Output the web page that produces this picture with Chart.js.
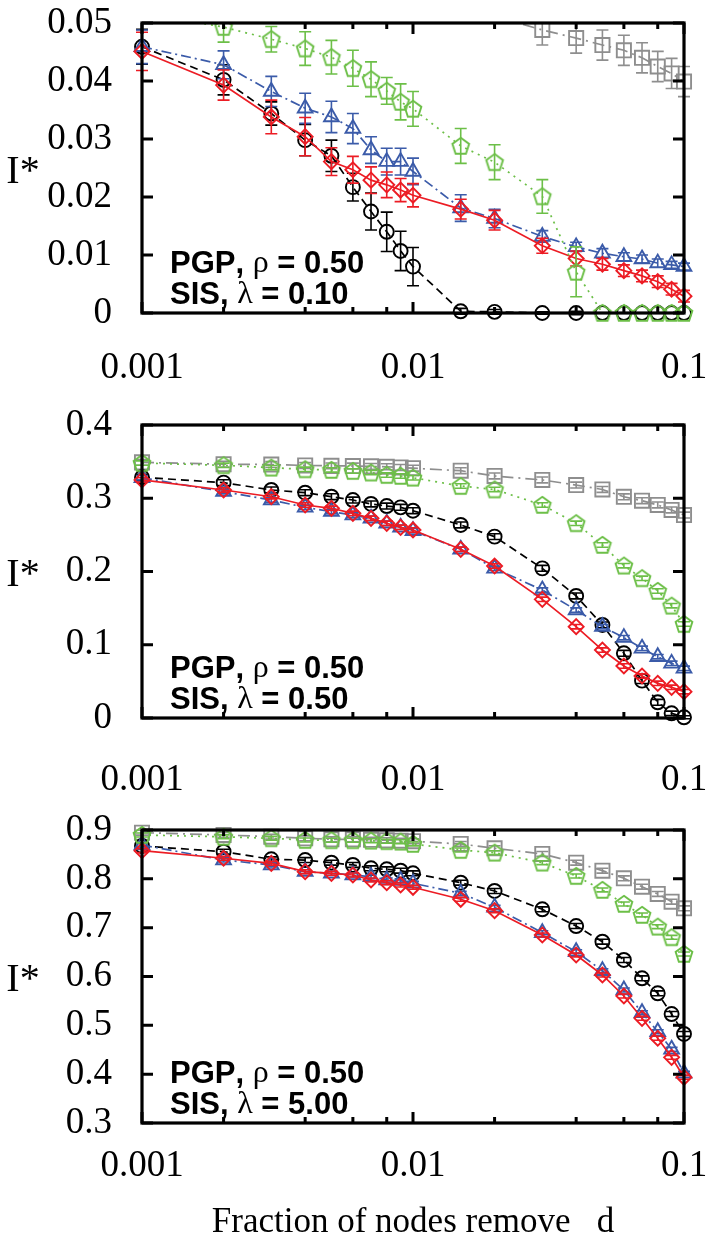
<!DOCTYPE html>
<html>
<head>
<meta charset="utf-8">
<script src="https://cdn.jsdelivr.net/npm/chart.js@4.4.1/dist/chart.umd.min.js"></script>
<style>
  html, body { margin: 0; padding: 0; background: #ffffff; }
  #wrap { position: relative; width: 724px; height: 1248px; overflow: hidden; background: #fff; }
  canvas { position: absolute; left: 0; }
</style>
</head>
<body>
<div id="wrap">
  <canvas id="c1" width="724" height="400" style="top:0px"></canvas>
  <canvas id="c2" width="724" height="410" style="top:390px"></canvas>
  <canvas id="c3" width="724" height="448" style="top:800px"></canvas>
</div>
<script>
// ---------------- DATA ----------------
const xValues = [0.001, 0.002, 0.003, 0.004, 0.005, 0.006, 0.007, 0.008, 0.009, 0.01,
                 0.015, 0.02, 0.03, 0.04, 0.05, 0.06, 0.07, 0.08, 0.09, 0.1];
const xTickValues = [0.001, 0.01, 0.1];
const xTickLabels = ['0.001', '0.01', '0.1'];
const xMinorTicks = [0.002, 0.004, 0.006, 0.008, 0.02, 0.04, 0.06, 0.08];
const xTitle = 'Fraction of nodes remove   d';
const yTitle = 'I*';

// Panel 1: SIS, lambda = 0.10
const yTicks1 = [0, 0.01, 0.02, 0.03, 0.04, 0.05];
const yLabels1 = ['0', '0.01', '0.02', '0.03', '0.04', '0.05'];
const note1 = ['PGP, ρ = 0.50', 'SIS, λ = 0.10'];
const black1 = [0.0459, 0.0402, 0.0344, 0.0298, 0.0271, 0.0217, 0.0175, 0.0140, 0.0107, 0.0080, 0.0003, 0.0002, 0, 0, 0, 0, 0, 0, 0, 0];
const black1Err = [0.0030, 0.0026, 0.0020, 0.0027, 0.0027, 0.0024, 0.0032, 0.0034, 0.0034, 0.0033, 0.0005, 0.0004, 0.0002, 0.0003, 0, 0, 0, 0, 0, 0];
const blue1 = [0.0459, 0.0428, 0.0382, 0.0353, 0.0338, 0.0318, 0.0281, 0.0261, 0.0261, 0.0244, 0.0181, 0.0163, 0.0132, 0.0114, 0.0103, 0.0097, 0.0093, 0.0086, 0.0083, 0.0080];
const blue1Err = [0.0029, 0.0024, 0.0026, 0.0026, 0.0027, 0.0026, 0.0023, 0.0023, 0.0023, 0.0023, 0.0023, 0.0016, 0.0010, 0.0008, 0.0008, 0.0007, 0.0007, 0.0007, 0.0006, 0.0006];
const red1 = [0.0451, 0.0393, 0.0338, 0.0304, 0.0261, 0.0247, 0.0229, 0.0221, 0.0212, 0.0203, 0.0179, 0.0160, 0.0116, 0.0094, 0.0084, 0.0073, 0.0064, 0.0054, 0.0041, 0.0029];
const red1Err = [0.0033, 0.0026, 0.0029, 0.0033, 0.0024, 0.0023, 0.0023, 0.0022, 0.0020, 0.0020, 0.0017, 0.0017, 0.0013, 0.0013, 0.0010, 0.0010, 0.0010, 0.0010, 0.0010, 0.0010];
const green1 = [0.0517, 0.0493, 0.0472, 0.0456, 0.0441, 0.0422, 0.0403, 0.0383, 0.0364, 0.0352, 0.0288, 0.0260, 0.0201, 0.0071, 0, 0, 0, 0, 0, 0];
const green1Err = [0.0030, 0.0026, 0.0022, 0.0029, 0.0029, 0.0031, 0.0030, 0.0023, 0.0031, 0.0030, 0.0030, 0.0030, 0.0029, 0.0043, 0, 0, 0, 0, 0, 0];
const gray1 = [0.0565, 0.0562, 0.0558, 0.0554, 0.0550, 0.0546, 0.0542, 0.0538, 0.0535, 0.0532, 0.0522, 0.0512, 0.0488, 0.0474, 0.0462, 0.0453, 0.0440, 0.0425, 0.0413, 0.0399];
const gray1Err = [0.0030, 0.0030, 0.0030, 0.0030, 0.0030, 0.0030, 0.0030, 0.0030, 0.0030, 0.0030, 0.0030, 0.0030, 0.0026, 0.0026, 0.0026, 0.0026, 0.0026, 0.0026, 0.0026, 0.0026];

// Panel 2: SIS, lambda = 0.50
const yTicks2 = [0, 0.1, 0.2, 0.3, 0.4];
const yLabels2 = ['0', '0.1', '0.2', '0.3', '0.4'];
const note2 = ['PGP, ρ = 0.50', 'SIS, λ = 0.50'];
const black2 = [0.3286, 0.3213, 0.3113, 0.3076, 0.3021, 0.2976, 0.2922, 0.2894, 0.2876, 0.2830, 0.2635, 0.2476, 0.2043, 0.1666, 0.1270, 0.0883, 0.0510, 0.0214, 0.0064, 0.0010];
const black2Err = [0.004, 0.004, 0.004, 0.004, 0.004, 0.004, 0.004, 0.004, 0.004, 0.004, 0.004, 0.004, 0.004, 0.004, 0.004, 0.004, 0.004, 0.004, 0.003, 0.002];
const blue2 = [0.3280, 0.3090, 0.2976, 0.2876, 0.2817, 0.2771, 0.2726, 0.2658, 0.2603, 0.2557, 0.2303, 0.2043, 0.1747, 0.1474, 0.1247, 0.1097, 0.0951, 0.0837, 0.0746, 0.0678];
const blue2Err = [0.003, 0.003, 0.003, 0.003, 0.003, 0.003, 0.003, 0.003, 0.003, 0.003, 0.003, 0.003, 0.003, 0.003, 0.003, 0.003, 0.003, 0.003, 0.003, 0.003];
const red2 = [0.3250, 0.3113, 0.3021, 0.2908, 0.2863, 0.2794, 0.2726, 0.2658, 0.2603, 0.2567, 0.2303, 0.2075, 0.1620, 0.1247, 0.0928, 0.0710, 0.0573, 0.0473, 0.0419, 0.0360];
const red2Err = [0.003, 0.003, 0.003, 0.003, 0.003, 0.003, 0.003, 0.003, 0.003, 0.003, 0.003, 0.003, 0.003, 0.003, 0.003, 0.003, 0.003, 0.003, 0.003, 0.003];
const green2 = [0.3480, 0.3450, 0.3417, 0.3395, 0.3386, 0.3372, 0.3350, 0.3317, 0.3304, 0.3280, 0.3167, 0.3120, 0.2908, 0.2658, 0.2362, 0.2080, 0.1907, 0.1734, 0.1533, 0.1283];
const green2Err = [0.003, 0.003, 0.003, 0.003, 0.003, 0.003, 0.003, 0.003, 0.003, 0.003, 0.003, 0.003, 0.003, 0.003, 0.003, 0.003, 0.003, 0.003, 0.003, 0.003];
const gray2 = [0.3490, 0.3465, 0.3460, 0.3448, 0.3442, 0.3440, 0.3435, 0.3430, 0.3420, 0.3410, 0.3376, 0.3304, 0.3250, 0.3180, 0.3120, 0.3020, 0.2967, 0.2908, 0.2840, 0.2771];
const gray2Err = [0.004, 0.004, 0.004, 0.004, 0.004, 0.004, 0.004, 0.004, 0.004, 0.004, 0.004, 0.004, 0.004, 0.004, 0.004, 0.004, 0.004, 0.004, 0.004, 0.004];

// Panel 3: SIS, lambda = 5.00
const yTicks3 = [0.3, 0.4, 0.5, 0.6, 0.7, 0.8, 0.9];
const yLabels3 = ['0.3', '0.4', '0.5', '0.6', '0.7', '0.8', '0.9'];
const note3 = ['PGP, ρ = 0.50', 'SIS, λ = 5.00'];
const black3 = [0.8673, 0.8556, 0.8400, 0.8385, 0.8330, 0.8284, 0.8216, 0.8195, 0.8167, 0.8113, 0.7921, 0.7751, 0.7376, 0.7034, 0.6713, 0.6338, 0.5963, 0.5656, 0.5232, 0.4823];
const black3Err = [0.005, 0.005, 0.005, 0.005, 0.005, 0.005, 0.005, 0.005, 0.005, 0.005, 0.005, 0.005, 0.005, 0.005, 0.005, 0.005, 0.005, 0.005, 0.005, 0.005];
const blue3 = [0.8693, 0.8386, 0.8284, 0.8147, 0.8113, 0.8079, 0.8044, 0.7976, 0.7963, 0.7909, 0.7704, 0.7417, 0.6897, 0.6508, 0.6119, 0.5724, 0.5259, 0.4870, 0.4509, 0.4018];
const blue3Err = [0.004, 0.004, 0.004, 0.004, 0.004, 0.004, 0.004, 0.004, 0.004, 0.004, 0.004, 0.004, 0.004, 0.004, 0.004, 0.004, 0.004, 0.004, 0.004, 0.004];
const red3 = [0.8577, 0.8421, 0.8318, 0.8147, 0.8113, 0.8079, 0.7976, 0.7921, 0.7874, 0.7827, 0.7581, 0.7348, 0.6850, 0.6440, 0.6031, 0.5601, 0.5144, 0.4735, 0.4345, 0.3936];
const red3Err = [0.004, 0.004, 0.004, 0.004, 0.004, 0.004, 0.004, 0.004, 0.004, 0.004, 0.004, 0.004, 0.004, 0.004, 0.004, 0.004, 0.004, 0.004, 0.004, 0.004];
const green3 = [0.8898, 0.8860, 0.8830, 0.8795, 0.8790, 0.8790, 0.8780, 0.8770, 0.8760, 0.8714, 0.8590, 0.8535, 0.8331, 0.8058, 0.7772, 0.7485, 0.7260, 0.7020, 0.6803, 0.6461];
const green3Err = [0.004, 0.004, 0.004, 0.004, 0.004, 0.004, 0.004, 0.004, 0.004, 0.004, 0.004, 0.004, 0.004, 0.004, 0.004, 0.004, 0.004, 0.004, 0.004, 0.004];
const gray3 = [0.8945, 0.8898, 0.8863, 0.8830, 0.8810, 0.8810, 0.8800, 0.8790, 0.8780, 0.8770, 0.8714, 0.8626, 0.8509, 0.8331, 0.8167, 0.8011, 0.7839, 0.7690, 0.7532, 0.7397];
const gray3Err = [0.005, 0.005, 0.005, 0.005, 0.005, 0.005, 0.005, 0.005, 0.005, 0.005, 0.005, 0.005, 0.005, 0.005, 0.005, 0.005, 0.005, 0.005, 0.005, 0.005];

// ---------------- STYLE ----------------
const COL = { black: '#000000', blue: '#3b5ba9', red: '#ec1c24', green: '#6cbf47', gray: '#8e8e8e' };
const SERIF = '"Liberation Serif", "DejaVu Serif", serif';
const SANS = '"Liberation Sans", Arial, sans-serif';

function makePentagon(color) {
  const c = document.createElement('canvas');
  c.width = 22; c.height = 22;
  const g = c.getContext('2d');
  g.strokeStyle = color; g.lineWidth = 1.9;
  g.beginPath();
  const cx = 11, cy = 11.6, r = 8.8;
  for (let k = 0; k < 5; k++) {
    const a = -Math.PI / 2 + k * 2 * Math.PI / 5;
    const px = cx + r * Math.cos(a), py = cy + r * Math.sin(a);
    if (k === 0) g.moveTo(px, py); else g.lineTo(px, py);
  }
  g.closePath(); g.stroke();
  return c;
}
const pentagonGreen = makePentagon(COL.green);

function pts(arr) { return xValues.map((x, i) => ({ x: x, y: arr[i] })); }

function datasets(black, blackE, blue, blueE, red, redE, green, greenE, gray, grayE, clipTop) {
  const clip = { left: 14, right: 14, top: clipTop, bottom: 14 };
  const base = { fill: false, tension: 0, borderWidth: 1.7, pointBorderWidth: 1.9,
                 pointBackgroundColor: 'rgba(0,0,0,0)', clip: clip };
  // first dataset is drawn on top
  return [
    Object.assign({}, base, { label: 'green', data: pts(green), errorBars: greenE, borderColor: COL.green,
      pointBorderColor: COL.green, borderDash: [2, 5], pointStyle: pentagonGreen }),
    Object.assign({}, base, { label: 'red', data: pts(red), errorBars: redE, borderColor: COL.red,
      pointBorderColor: COL.red, borderDash: [], pointStyle: 'rectRot', pointRadius: 7.5 }),
    Object.assign({}, base, { label: 'blue', data: pts(blue), errorBars: blueE, borderColor: COL.blue,
      pointBorderColor: COL.blue, borderDash: [10, 4, 2, 4], pointStyle: 'triangle', pointRadius: 8.5 }),
    Object.assign({}, base, { label: 'black', data: pts(black), errorBars: blackE, borderColor: COL.black,
      pointBorderColor: COL.black, borderDash: [8, 5], pointStyle: 'circle', pointRadius: 7 }),
    Object.assign({}, base, { label: 'gray', data: pts(gray), errorBars: grayE, borderColor: COL.gray,
      pointBorderColor: COL.gray, borderDash: [12, 5, 2, 5], pointStyle: 'rect', pointRadius: 10 })
  ];
}

function drawNote(ctx, text, x, y) {
  let cx = x;
  for (const ch of text) {
    if (ch === 'ρ' || ch === 'λ') ctx.font = '32px ' + SERIF;
    else ctx.font = 'bold 31px ' + SANS;
    ctx.fillText(ch, cx, y);
    cx += ctx.measureText(ch).width;
  }
}

const decoPlugin = {
  id: 'deco',
  beforeDatasetDraw(chart, args, opts) {
    const ds = chart.data.datasets[args.index];
    if (!ds.errorBars) return;
    const ctx = chart.ctx, ys = chart.scales.y, a = chart.chartArea;
    ctx.save();
    ctx.beginPath();
    ctx.rect(a.left - 14, a.top - opts.clipTop, a.right - a.left + 28, a.bottom - a.top + opts.clipTop + 14);
    ctx.clip();
    ctx.strokeStyle = ds.borderColor; ctx.lineWidth = 1.6; ctx.setLineDash([]);
    args.meta.data.forEach((pt, i) => {
      const v = ds.data[i].y, e = ds.errorBars[i];
      if (!e || v > ys.max || v < ys.min) return; // out-of-range points carry no bar
      const y1 = ys.getPixelForValue(v + e), y2 = ys.getPixelForValue(v - e);
      ctx.beginPath();
      ctx.moveTo(pt.x, y1); ctx.lineTo(pt.x, y2);
      ctx.moveTo(pt.x - 6, y1); ctx.lineTo(pt.x + 6, y1);
      ctx.moveTo(pt.x - 6, y2); ctx.lineTo(pt.x + 6, y2);
      ctx.stroke();
    });
    ctx.restore();
  },
  afterDraw(chart, args, opts) {
    const ctx = chart.ctx, a = chart.chartArea, xs = chart.scales.x, ys = chart.scales.y;
    ctx.save();
    ctx.setLineDash([]);
    ctx.strokeStyle = '#000'; ctx.lineWidth = 3;
    ctx.beginPath();
    xTickValues.forEach(v => {
      const px = xs.getPixelForValue(v);
      ctx.moveTo(px, a.bottom); ctx.lineTo(px, a.bottom - 11);
      ctx.moveTo(px, a.top); ctx.lineTo(px, a.top + 11);
    });
    xMinorTicks.forEach(v => {
      const px = xs.getPixelForValue(v);
      ctx.moveTo(px, a.bottom); ctx.lineTo(px, a.bottom - 6);
      ctx.moveTo(px, a.top); ctx.lineTo(px, a.top + 6);
    });
    opts.yTicks.forEach(v => {
      const py = ys.getPixelForValue(v);
      ctx.moveTo(a.left, py); ctx.lineTo(a.left + 11, py);
      ctx.moveTo(a.right, py); ctx.lineTo(a.right - 11, py);
    });
    ctx.stroke();
    ctx.lineWidth = 3.2;
    ctx.strokeRect(a.left, a.top, a.right - a.left, a.bottom - a.top);
    ctx.fillStyle = '#000';
    ctx.textAlign = 'left'; ctx.textBaseline = 'middle';
    drawNote(ctx, opts.note[0], a.left + 28, a.bottom - 49);
    drawNote(ctx, opts.note[1], a.left + 28, a.bottom - 18);
    ctx.font = '40px ' + SERIF;
    ctx.textAlign = 'center';
    ctx.fillText(yTitle, 23, (a.top + a.bottom) / 2 + 4);
    if (opts.showXTitle) {
      ctx.font = '35px ' + SERIF;
      ctx.fillText(xTitle, (a.left + a.right) / 2, a.bottom + 100);
    }
    ctx.restore();
  }
};

function makePanel(id, cfg) {
  const ctx = document.getElementById(id).getContext('2d');
  return new Chart(ctx, {
    type: 'line',
    data: { datasets: datasets.apply(null, cfg.series.concat([cfg.clipTop])) },
    plugins: [decoPlugin],
    options: {
      responsive: false, animation: false, events: [],
      layout: { padding: { top: cfg.padTop, right: 40, left: 0, bottom: 0 } },
      plugins: {
        legend: { display: false }, tooltip: { enabled: false },
        deco: { yTicks: cfg.yTicks, note: cfg.note, clipTop: cfg.clipTop, showXTitle: cfg.showXTitle }
      },
      scales: {
        x: {
          type: 'logarithmic', min: 0.001, max: 0.1,
          grid: { display: false, drawTicks: true, tickLength: cfg.xGap }, border: { display: false },
          afterBuildTicks: s => { s.ticks = xTickValues.map(v => ({ value: v })); },
          afterFit: s => { s.height = cfg.xHeight; },
          ticks: { autoSkip: false, maxRotation: 0, minRotation: 0, padding: 0, color: '#000',
                   font: { family: SERIF, size: 37 },
                   callback: (v, i) => xTickLabels[i] }
        },
        y: {
          type: 'linear', min: cfg.yTicks[0], max: cfg.yTicks[cfg.yTicks.length - 1],
          grid: { display: false, drawTicks: true, tickLength: 30 }, border: { display: false },
          afterBuildTicks: s => { s.ticks = cfg.yTicks.map(v => ({ value: v })); },
          afterFit: s => { s.width = 142; },
          ticks: { autoSkip: false, padding: 0, color: '#000',
                   font: { family: SERIF, size: 37 },
                   callback: (v, i) => cfg.yLabels[i] }
        }
      }
    }
  });
}

makePanel('c1', { padTop: 23, xHeight: 87, xGap: 33, clipTop: 0, yTicks: yTicks1, yLabels: yLabels1, note: note1, showXTitle: false,
  series: [black1, black1Err, blue1, blue1Err, red1, red1Err, green1, green1Err, gray1, gray1Err] });
makePanel('c2', { padTop: 35, xHeight: 82, xGap: 40, clipTop: 12, yTicks: yTicks2, yLabels: yLabels2, note: note2, showXTitle: false,
  series: [black2, black2Err, blue2, blue2Err, red2, red2Err, green2, green2Err, gray2, gray2Err] });
makePanel('c3', { padTop: 30, xHeight: 125, xGap: 21, clipTop: 12, yTicks: yTicks3, yLabels: yLabels3, note: note3, showXTitle: true,
  series: [black3, black3Err, blue3, blue3Err, red3, red3Err, green3, green3Err, gray3, gray3Err] });
</script>
</body>
</html>
